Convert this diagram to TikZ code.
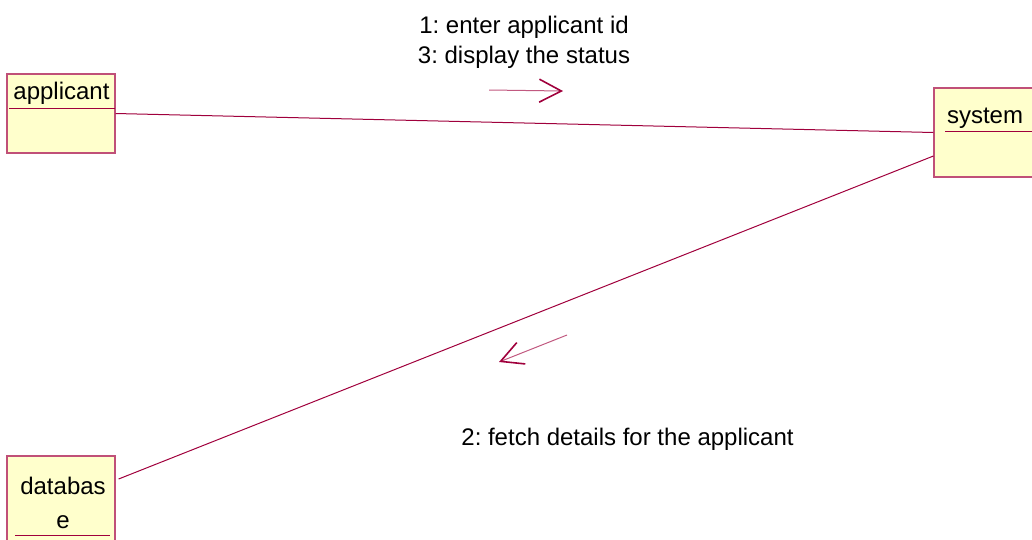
\documentclass[tikz,border=0pt]{standalone}
\usepackage{fontspec}
\setmainfont{Liberation Sans}
\usetikzlibrary{arrows.meta}
\frenchspacing
\definecolor{linkred}{RGB}{160,0,60}
\definecolor{boxedge}{RGB}{192,80,120}
\definecolor{boxfill}{RGB}{255,255,204}
\tikzset{
    x=1pt, y=-1pt,
    object/.style={draw=boxedge, fill=boxfill, line width=1.2pt, inner sep=0pt},
    objname/.style={font=\fontsize{24}{34}\selectfont, inner sep=0pt,
        anchor=base, align=center},
    link/.style={draw=linkred, line width=1pt},
    msg/.style={draw=linkred!65, line width=1pt,
        -{Straight Barb[length=22pt, width=23pt, line width=1.6pt, color=linkred]}},
    msgtext/.style={font=\fontsize{24}{30}\selectfont, inner sep=0pt,
        anchor=base, align=center},
}

\begin{document}
\begin{tikzpicture}
        \useasboundingbox (0,0) rectangle (1032,539);
        \clip (0,0) rectangle (1032,539);
        % objects
        \node[object, minimum width=108pt, minimum height=79pt] (applicant)
            at (61,113.5) {};
        \node[object, minimum width=106pt, minimum height=89pt] (system)
            at (987,132.5) {};
        \node[object, minimum width=108pt, minimum height=89pt] (database)
            at (61,500.5) {};
        \node[objname] (applicantname) at (61.5,99) {applicant};
        \node[objname] (systemname) at (985,123) {system};
        \node[objname] (databasename) at (63,528) {databas\\e};
        \draw[link] (9,108) -- (115,108);
        \draw[link] (945,131) -- (1040,131);
        \draw[link] (15,535) -- (110,535);
        % links
        \coordinate (sysport) at ([yshift=-23.5pt]system.west);
        \coordinate (dbport) at ([xshift=3pt, yshift=21.5pt]database.east);
        \draw[link] (applicant.east) -- (system.west);
        \draw[link] (sysport) -- (dbport);
        % messages
        \coordinate (m1from) at (489,90);
        \coordinate (m1to) at (563,91);
        \coordinate (m2from) at (567,335);
        \coordinate (m2to) at (499,362);
        \draw[msg] (m1from) -- (m1to);
        \draw[msg] (m2from) -- (m2to);
        \node[msgtext] (m1label) at (524,63)
            {1: enter applicant id\\3: display the status};
        \node[msgtext] (m2label) at (627.5,445)
            {2: fetch details for the applicant};
    \end{tikzpicture}
\end{document}
